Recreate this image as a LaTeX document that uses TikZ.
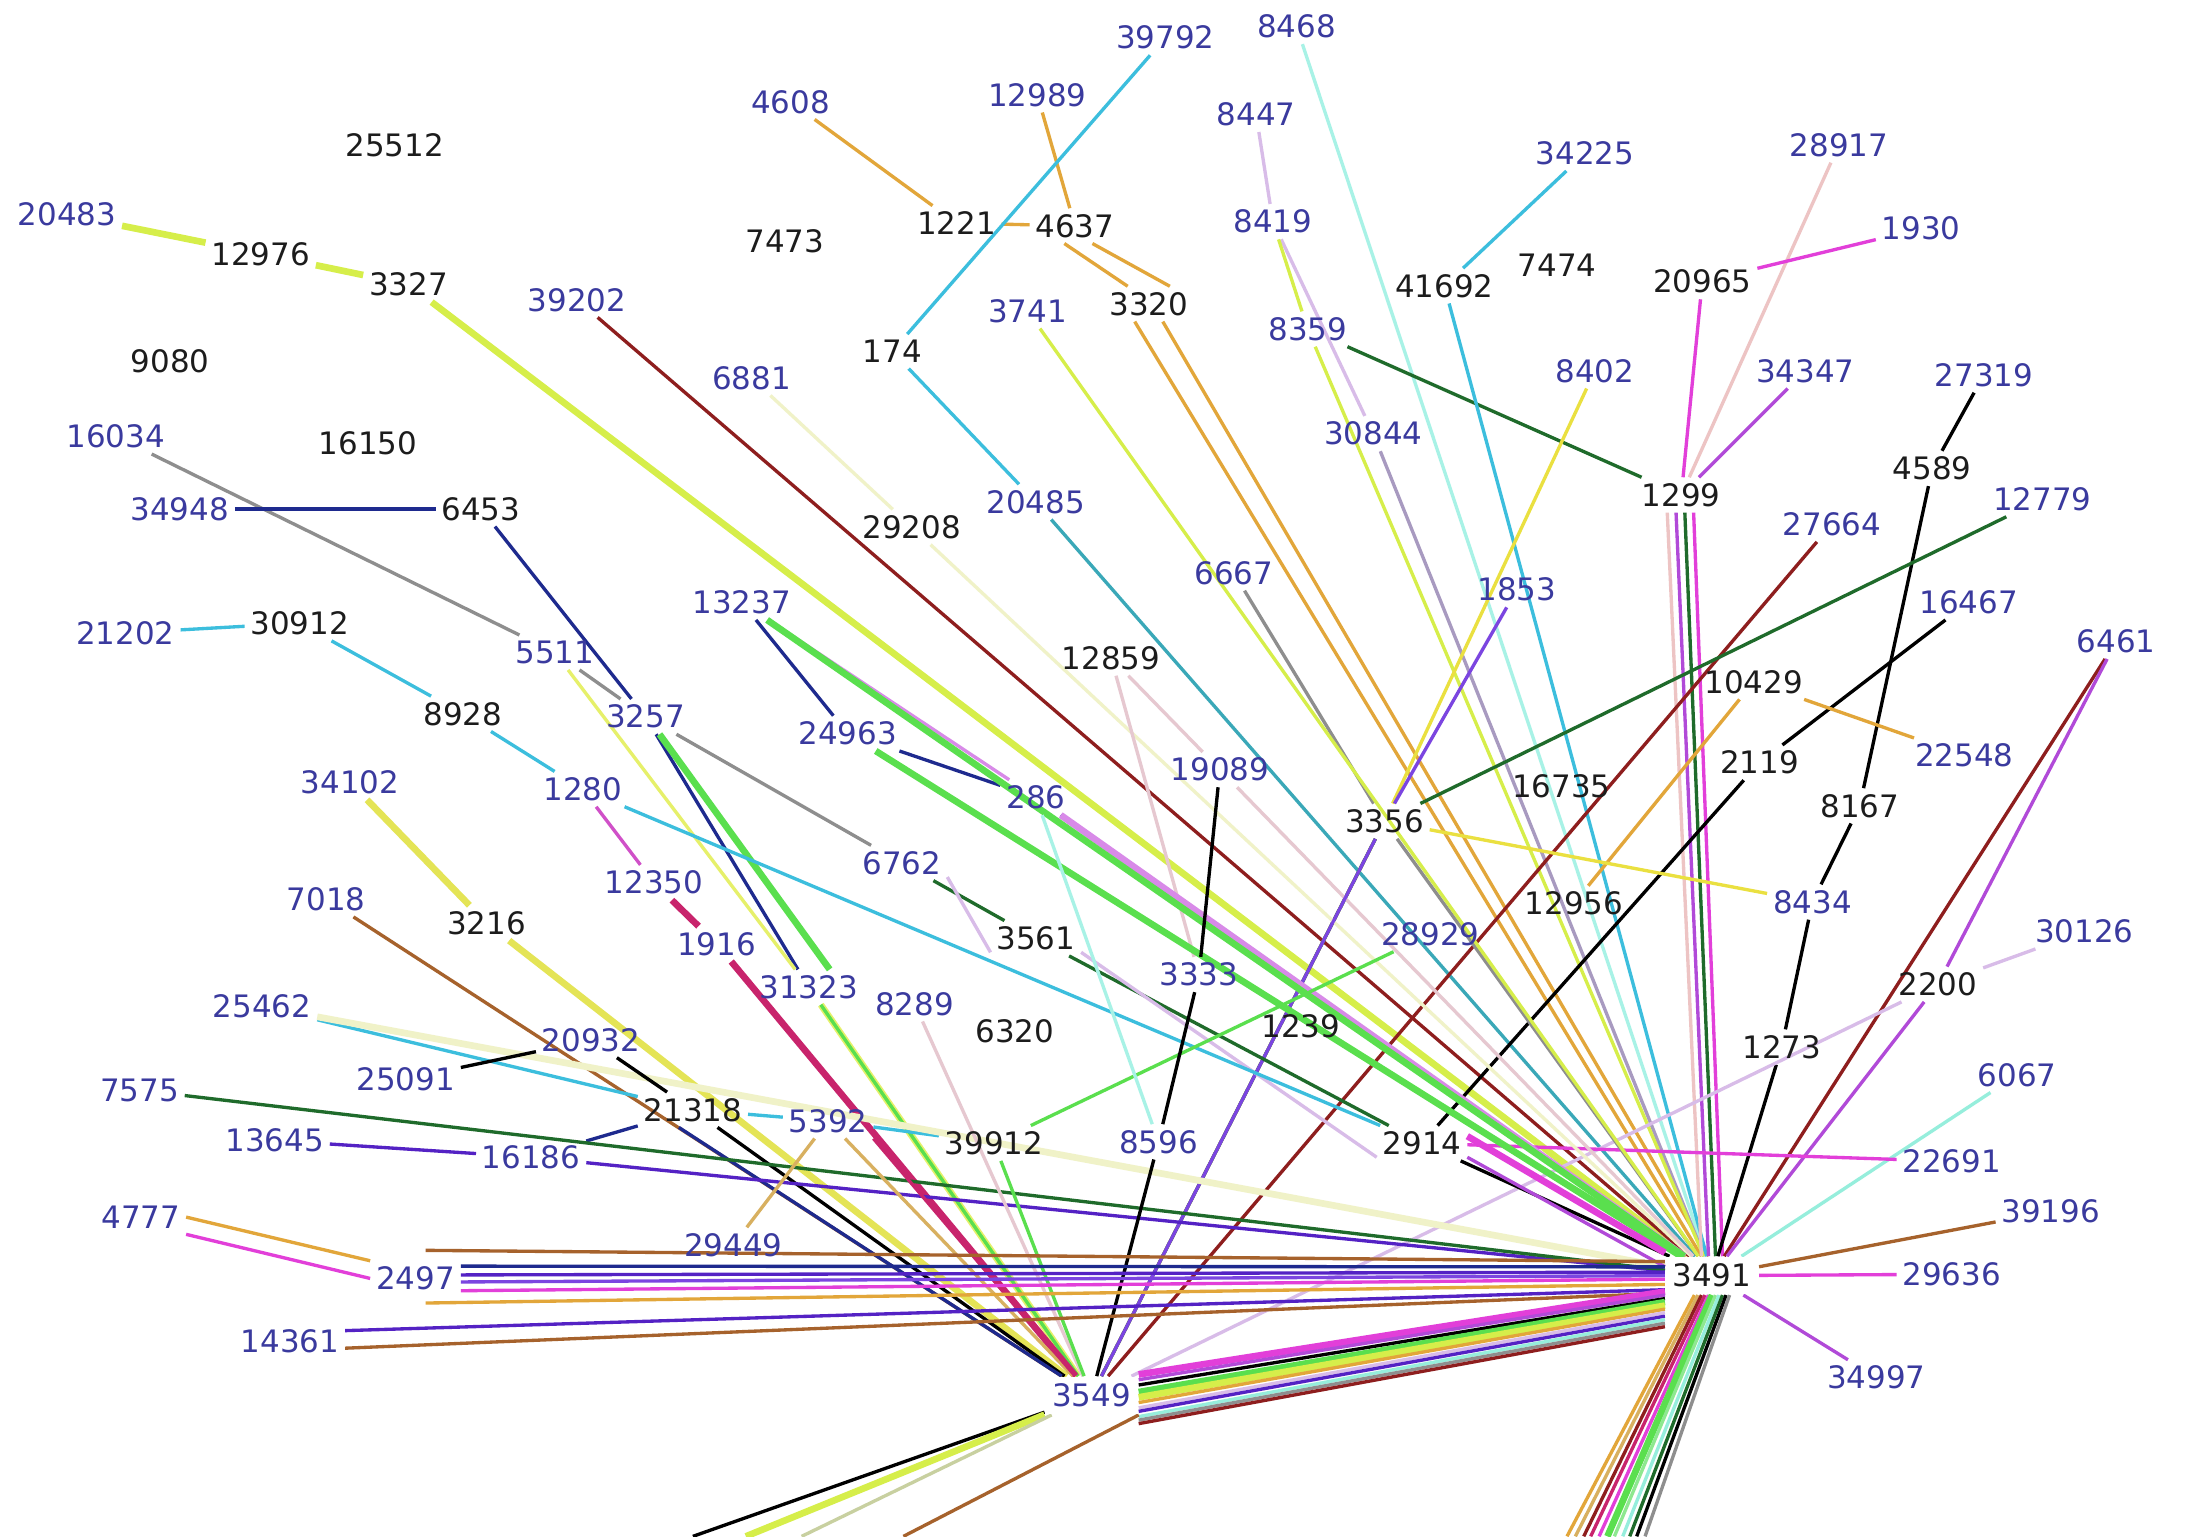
\documentclass[tikz,border=0pt]{standalone}
\usepackage{fontspec}
\setmainfont{DejaVu Sans}
\usetikzlibrary{backgrounds}
\definecolor{lblue}{HTML}{3A3A9E}
\definecolor{lblack}{HTML}{1C1C1C}
\definecolor{ygr}{HTML}{D6EE4A}
\definecolor{ygrB}{HTML}{E6F06A}
\definecolor{yelB}{HTML}{E4E456}
\definecolor{dred}{HTML}{8E1E1E}
\definecolor{org}{HTML}{E2A63A}
\definecolor{tan}{HTML}{D8B060}
\definecolor{cyn}{HTML}{3CBEDD}
\definecolor{teal}{HTML}{3AA8B8}
\definecolor{pyel}{HTML}{F0F2C8}
\definecolor{lcyn}{HTML}{A8F2E6}
\definecolor{lav}{HTML}{D8BCE8}
\definecolor{glav}{HTML}{A89AC0}
\definecolor{yel}{HTML}{EAE040}
\definecolor{dgrn}{HTML}{1F6B2B}
\definecolor{pnk}{HTML}{EDC4C4}
\definecolor{mag}{HTML}{E23FD9}
\definecolor{magB}{HTML}{D050C8}
\definecolor{pur}{HTML}{B14AD8}
\definecolor{nvy}{HTML}{1E2A8E}
\definecolor{gry}{HTML}{8E8E8E}
\definecolor{vio}{HTML}{7B45E0}
\definecolor{lim}{HTML}{5ADF4E}
\definecolor{lgrn}{HTML}{8EE890}
\definecolor{crm}{HTML}{C8246C}
\definecolor{brn}{HTML}{A6622C}
\definecolor{ind}{HTML}{5422C4}
\definecolor{aqua}{HTML}{96EEDC}
\definecolor{ppnk}{HTML}{E6C8D0}
\definecolor{pmag}{HTML}{D88AE8}
\definecolor{pgry}{HTML}{C8D0A0}
\begin{document}
\begin{tikzpicture}[x=0.013941cm,y=-0.013947cm,
  nd/.style={font=\fontsize{8.8}{10}\selectfont,inner sep=1.5pt},
  bl/.style={nd,text=lblue},
  bk/.style={nd,text=lblack},
  hub/.style={fill=white,inner sep=2pt},
  e/.style={line width=0.95pt},
  tk/.style={line width=1.9pt}]
\useasboundingbox (0,0) rectangle (1568,1102);
% nodes
\node[bl] (n39792) at (836,27) {39792};
\node[bl] (n8468) at (930,19) {8468};
\node[bl] (n4608) at (567,73) {4608};
\node[bl] (n12989) at (744,68) {12989};
\node[bl] (n8447) at (901,82) {8447};
\node[bl] (n34225) at (1137,110) {34225};
\node[bl] (n28917) at (1319,104) {28917};
\node[bk] (n25512) at (283,104) {25512};
\node[bl] (n20483) at (48,154) {20483};
\node[bk] (n12976) at (187,182) {12976};
\node[bk] (n3327) at (293,204) {3327};
\node[bk] (n7473) at (563,173) {7473};
\node[bk] (n1221) at (686,160) {1221};
\node[bk] (n4637) at (771,162) {4637};
\node[bl] (n8419) at (913,159) {8419};
\node[bl] (n1930) at (1378,164) {1930};
\node[bk] (n20965) at (1221,202) {20965};
\node[bk] (n41692) at (1036,205) {41692};
\node[bk] (n7474) at (1117,190) {7474};
\node[bl] (n39202) at (414,215) {39202};
\node[bl] (n3741) at (737,223) {3741};
\node[bk] (n3320) at (824,218) {3320};
\node[bl] (n8359) at (938,236) {8359};
\node[bk] (n174) at (640,252) {174};
\node[bk] (n9080) at (122,259) {9080};
\node[bl] (n6881) at (539,271) {6881};
\node[bl] (n8402) at (1144,266) {8402};
\node[bl] (n34347) at (1295,266) {34347};
\node[bl] (n27319) at (1423,269) {27319};
\node[bl] (n16034) at (83,313) {16034};
\node[bk] (n16150) at (264,318) {16150};
\node[bl] (n30844) at (985,311) {30844};
\node[bk] (n4589) at (1386,336) {4589};
\node[bk] (n1299) at (1206,355) {1299};
\node[bl] (n12779) at (1465,358) {12779};
\node[bl] (n34948) at (129,365) {34948};
\node[bk] (n6453) at (345,365) {6453};
\node[bl] (n20485) at (743,360) {20485};
\node[bk] (n29208) at (654,378) {29208};
\node[bl] (n27664) at (1314,376) {27664};
\node[bl] (n6667) at (885,411) {6667};
\node[bl] (n1853) at (1088,423) {1853};
\node[bl] (n16467) at (1412,432) {16467};
\node[bl] (n6461) at (1518,460) {6461};
\node[bl] (n13237) at (532,432) {13237};
\node[bl] (n21202) at (90,454) {21202};
\node[bk] (n30912) at (215,447) {30912};
\node[bl] (n5511) at (398,468) {5511};
\node[bk] (n12859) at (797,472) {12859};
\node[bk] (n10429) at (1258,489) {10429};
\node[bl] (n3257) at (463,514) {3257};
\node[bk] (n8928) at (332,512) {8928};
\node[bl] (n24963) at (608,526) {24963};
\node[bl] (n22548) at (1409,542) {22548};
\node[bk] (n2119) at (1262,547) {2119};
\node[bl] (n19089) at (875,552) {19089};
\node[bl] (n34102) at (251,561) {34102};
\node[bl] (n1280) at (418,566) {1280};
\node[bl] (n286) at (743,572) {286};
\node[bk] (n16735) at (1120,564) {16735};
\node[bk] (n8167) at (1334,578) {8167};
\node[bk] (n3356) at (993,589) {3356};
\node[bl] (n6762) at (647,619) {6762};
\node[bl] (n12350) at (469,633) {12350};
\node[bl] (n7018) at (234,645) {7018};
\node[bk] (n3216) at (349,662) {3216};
\node[bk] (n12956) at (1129,648) {12956};
\node[bl] (n8434) at (1300,647) {8434};
\node[bl] (n1916) at (514,677) {1916};
\node[bk] (n3561) at (743,673) {3561};
\node[bl] (n28929) at (1026,670) {28929};
\node[bl] (n30126) at (1495,668) {30126};
\node[bl] (n3333) at (860,699) {3333};
\node[bl] (n31323) at (580,708) {31323};
\node[bk] (n2200) at (1390,706) {2200};
\node[bl] (n8289) at (656,720) {8289};
\node[bl] (n25462) at (188,722) {25462};
\node[bk] (n6320) at (728,740) {6320};
\node[bk] (n1239) at (933,736) {1239};
\node[bl] (n20932) at (424,746) {20932};
\node[bk] (n1273) at (1278,751) {1273};
\node[bl] (n25091) at (291,774) {25091};
\node[bl] (n6067) at (1447,771) {6067};
\node[bl] (n7575) at (100,782) {7575};
\node[bk] (n21318) at (497,796) {21318};
\node[bl] (n5392) at (594,804) {5392};
\node[bk] (n39912) at (713,820) {39912};
\node[bl] (n8596) at (831,819) {8596};
\node[bk] (n2914) at (1020,820) {2914};
\node[bl] (n13645) at (197,818) {13645};
\node[bl] (n16186) at (381,830) {16186};
\node[bl] (n22691) at (1400,833) {22691};
\node[bl] (n4777) at (101,873) {4777};
\node[bl] (n39196) at (1471,869) {39196};
\node[bl] (n29449) at (526,893) {29449};
\node[bl] (n2497) at (298,917) {2497};
\node[bk,hub] (n3491) at (1228,915) {3491};
\node[bl] (n29636) at (1400,914) {29636};
\node[bl] (n14361) at (208,962) {14361};
\node[bl] (n34997) at (1346,988) {34997};
\node[bl,hub] (n3549) at (783,1001) {3549};
% free ends at the lower edge
\coordinate (d1) at (497,1102);
\coordinate (d2) at (535,1102);
\coordinate (d3) at (575,1102);
\coordinate (d4) at (648,1102);
\coordinate (c1) at (1124,1102);
\coordinate (c2) at (1130,1102);
\coordinate (c3) at (1136,1102);
\coordinate (c4) at (1141,1102);
\coordinate (c5) at (1147,1102);
\coordinate (c6) at (1153,1102);
\coordinate (c7) at (1158,1102);
\coordinate (c8) at (1164,1102);
\coordinate (c9) at (1169,1102);
\coordinate (c10) at (1174,1102);
\coordinate (c11) at (1180,1102);
\begin{scope}[on background layer]
\fill[white] (0,0) rectangle (1568,1102);
% top / upper area
\draw[e,tk,ygr] (n20483) -- (n12976);
\draw[e,tk,ygr] (n12976) -- (n3327);
\draw[e,tk,ygr] (n3327) -- (n3491);
\draw[e,dred] (n39202) -- (n3491);
\draw[e,org] (n4608) -- (n1221);
\draw[e,org] (n1221) -- (n4637);
\draw[e,org] (n12989) -- (n4637);
\draw[e,org] ([xshift=-3pt]n4637.south) -- ([xshift=-6pt]n3320.north);
\draw[e,org] ([xshift=5pt]n4637.south) -- ([xshift=6pt]n3320.north);
\draw[e,org] ([xshift=-4pt]n3320.south) -- ([xshift=-3pt]n3491.north);
\draw[e,org] ([xshift=4pt]n3320.south) -- ([xshift=-1pt]n3491.north);
\draw[e,cyn] (n39792) -- (n174);
\draw[e,cyn] (n174) -- (n20485);
\draw[e,teal] (n20485) -- (n3491);
\draw[e,lcyn] (n8468) -- (n3491);
\draw[e,lav] (n8447) -- (n8419);
\draw[e,lav] (n8419) -- (n30844);
\draw[e,glav] (n30844) -- (n3491);
\draw[e,ygr] (n8419) -- (n8359);
\draw[e,ygr] (n8359) -- (n3491);
\draw[e,dgrn] (n8359) -- (n1299);
\draw[e,cyn] (n34225) -- (n41692);
\draw[e,cyn] (n41692) -- (n3491);
\draw[e,yel] (n8402) -- (n3356);
\draw[e,yel] (n3356) -- (n3549);
\draw[e,pnk] (n28917) -- (n1299);
\draw[e,mag] (n1930) -- (n20965);
\draw[e,mag] (n20965) -- (n1299);
\draw[e,pur] (n34347) -- (n1299);
\draw[e,pnk] ([xshift=-4pt]n1299.south) -- ([xshift=-3pt]n3491.north);
\draw[e,pur] ([xshift=-1.5pt]n1299.south) -- ([xshift=-1pt]n3491.north);
\draw[e,dgrn] ([xshift=1pt]n1299.south) -- ([xshift=1pt]n3491.north);
\draw[e,mag] ([xshift=3.5pt]n1299.south) -- ([xshift=3pt]n3491.north);
\draw[e,black] (n27319) -- (n4589);
\draw[e,black] (n4589) -- (n8167);
\draw[e,black] (n8167) -- (n8434);
\draw[e,black] (n8434) -- (n1273);
\draw[e,black] (n1273) -- (n3491);
\draw[e,dred] (n27664) -- (n3549);
\draw[e,dgrn] (n12779) -- (n3356);
\draw[e,dgrn] (n3356) -- (n3549);
\draw[e,black] (n16467) -- (n2119);
\draw[e,black] (n2119) -- (n2914);
\draw[e,org] (n10429) -- (n22548);
\draw[e,org] (n10429) -- (n12956);
\draw[e,yel] (n3356) -- (n8434);
\draw[e,dred] (n6461) -- (n3491);
\draw[e,pur] (n6461) -- (n2200);
\draw[e,pur] (n2200) -- (n3491);
\draw[e,lav] (n30126) -- (n2200);
\draw[e,lav] (n2200) -- (n3549);
\draw[e,aqua] (n6067) -- (n3491);
\draw[e,mag] (n22691) -- (n2914);
\draw[e,brn] (n39196) -- (n3491);
\draw[e,mag] (n29636) -- (n3491);
\draw[e,pur] (n34997) -- (n3491);
\draw[e,pyel] (n6881) -- (n29208);
\draw[e,pyel] (n29208) -- (n3491);
\draw[e,ppnk] (n12859) -- (n3333);
\draw[e,ppnk] (n12859) -- (n19089);
\draw[e,ppnk] (n19089) -- (n3491);
\draw[e,gry] (n6667) -- (n3356);
\draw[e,gry] (n3356) -- (n3491);
\draw[e,vio] (n1853) -- (n3356);
\draw[e,vio] (n3356) -- (n3549);
\draw[e,ygr] (n3741) -- (n3491);
% left part
\draw[e,gry] (n16034) -- (n5511);
\draw[e,nvy] (n34948) -- (n6453);
\draw[e,nvy] (n6453) -- (n3257);
\draw[e,nvy] (n3257) -- (n31323);
\draw[e,gry] (n5511) -- (n3257);
\draw[e,gry] (n3257) -- (n6762);
\draw[e,ygrB] (n5511) -- (n31323);
\draw[e,tk,ygrB] (n31323) -- (n3549);
\draw[e,tk,lim] ([xshift=4pt]n3257.south) -- ([xshift=6pt]n31323.north);
\draw[e,lim] (n31323) -- (n3549);
\draw[e,dgrn] (n6762) -- (n3561);
\draw[e,dgrn] (n3561) -- (n2914);
\draw[e,lav] ([yshift=-4pt]n6762.east) -- ([yshift=-4pt]n3561.west);
\draw[e,lav] ([yshift=-4pt]n3561.east) -- ([yshift=-4pt]n2914.west);
\draw[e,nvy] (n13237) -- (n24963);
\draw[e,nvy] (n24963) -- (n286);
\draw[e,nvy] (n286) -- (n3491);
\draw[e,pmag] (n13237) -- (n286);
\draw[e,tk,pmag] (n286) -- (n3491);
\draw[e,tk,lim] (n13237) -- (n3491);
\draw[e,tk,lim] (n24963) -- (n3491);
\draw[e,cyn] (n21202) -- (n30912);
\draw[e,cyn] (n30912) -- (n8928);
\draw[e,cyn] (n8928) -- (n1280);
\draw[e,cyn] (n1280) -- (n2914);
\draw[e,magB] (n1280) -- (n12350);
\draw[e,tk,crm] (n12350) -- (n1916);
\draw[e,tk,crm] (n1916) -- (n3549);
\draw[e,tk,yelB] (n34102) -- (n3216);
\draw[e,tk,yelB] (n3216) -- (n3549);
\draw[e,brn] (n7018) -- (n3549);
\draw[e,cyn] (n25462) -- (n21318);
\draw[e,cyn] (n21318) -- (n5392);
\draw[e,cyn] (n5392) -- (n39912);
\draw[e,cyn] (n39912) -- (n3491);
\draw[e,tk,pyel] (n25462) -- (n3491);
\draw[e,black] (n25091) -- (n20932);
\draw[e,black] (n20932) -- (n21318);
\draw[e,black] (n21318) -- (n3549);
\draw[e,nvy] (n16186) -- (n21318);
\draw[e,nvy] ([xshift=-4pt]n21318.south) -- (n3549);
\draw[e,ind] (n13645) -- (n16186);
\draw[e,ind] (n16186) -- (n3491);
\draw[e,dgrn] (n7575) -- (n3491);
\draw[e,tan] (n5392) -- (n29449);
\draw[e,tan] (n5392) -- (n3549);
\draw[e,crm] (n5392.south east) -- (n3549);
\draw[e,ppnk] (n8289) -- (n3549);
\draw[e,lim] (n39912) -- (n28929);
\draw[e,lim] (n39912) -- (n3549);
\draw[e,black] (n19089) -- (n3333);
\draw[e,black] (n3333) -- (n8596);
\draw[e,black] (n8596) -- (n3549);
\draw[e,lcyn] (n286) -- (n8596);
% 2914 to hub
\draw[e,black] (n2914) -- (n3491);
\draw[e,tk,mag] ([yshift=2pt]n2914.east) -- ([yshift=1pt]n3491.north west);
\draw[e,pur] ([yshift=-4pt]n2914.east) -- ([yshift=-3pt]n3491.north west);
% 4777 / 2497 / 14361
\draw[e,org] (n4777.east) -- (n2497.north west);
\draw[e,mag] (n4777.south east) -- (n2497.west);
\draw[e,brn] ([xshift=-10pt,yshift=8pt]n2497.east) -- ([yshift=4pt]n3491.west);
\draw[e,nvy] ([yshift=3.5pt]n2497.east) -- ([yshift=2.5pt]n3491.west);
\draw[e,ind] ([yshift=1pt]n2497.east) -- ([yshift=1pt]n3491.west);
\draw[e,vio] ([yshift=-1pt]n2497.east) -- ([yshift=0pt]n3491.west);
\draw[e,mag] ([yshift=-3.5pt]n2497.east) -- ([yshift=-1pt]n3491.west);
\draw[e,org] ([xshift=-10pt,yshift=-7pt]n2497.east) -- ([yshift=-2.5pt]n3491.west);
\draw[e,ind] ([yshift=3pt]n14361.east) -- ([yshift=-4pt]n3491.west);
\draw[e,brn] ([yshift=-2pt]n14361.east) -- ([yshift=-5pt]n3491.west);
% bundle 3549 - 3491
\draw[e,tk,mag] ([yshift=6pt]n3549.east) -- ([yshift=1pt]n3491.south west);
\draw[e,pur] ([yshift=4.5pt]n3549.east) -- ([yshift=0pt]n3491.south west);
\draw[e,black] ([yshift=3pt]n3549.east) -- ([yshift=-1pt]n3491.south west);
\draw[e,tk,lim] ([yshift=1pt]n3549.east) -- ([yshift=-2pt]n3491.south west);
\draw[e,tk,ygr] ([yshift=-0.5pt]n3549.east) -- ([yshift=-3pt]n3491.south west);
\draw[e,org] ([yshift=-2pt]n3549.east) -- ([yshift=-4pt]n3491.south west);
\draw[e,lav] ([yshift=-3.5pt]n3549.east) -- ([yshift=-5pt]n3491.south west);
\draw[e,ind] ([yshift=-4.5pt]n3549.east) -- ([yshift=-6pt]n3491.south west);
\draw[e,aqua] ([yshift=-6pt]n3549.east) -- ([yshift=-7pt]n3491.south west);
\draw[e,gry] ([yshift=-7pt]n3549.east) -- ([yshift=-8pt]n3491.south west);
\draw[e,dred] ([yshift=-8pt]n3549.east) -- ([yshift=-9pt]n3491.south west);
% off the lower edge
\draw[e,black] (n3549) -- (d1);
\draw[e,tk,ygr] (n3549) -- (d2);
\draw[e,pgry] (n3549) -- (d3);
\draw[e,brn] (n3549.south east) -- (d4);
\draw[e,org] ([xshift=-5pt]n3491.south) -- (c1);
\draw[e,tan] ([xshift=-4pt]n3491.south) -- (c2);
\draw[e,dred] ([xshift=-3pt]n3491.south) -- (c3);
\draw[e,crm] ([xshift=-2pt]n3491.south) -- (c4);
\draw[e,mag] ([xshift=-1pt]n3491.south) -- (c5);
\draw[e,tk,lim] ([xshift=0pt]n3491.south) -- (c6);
\draw[e,lgrn] ([xshift=1pt]n3491.south) -- (c7);
\draw[e,aqua] ([xshift=2pt]n3491.south) -- (c8);
\draw[e,dgrn] ([xshift=3pt]n3491.south) -- (c9);
\draw[e,black] ([xshift=4pt]n3491.south) -- (c10);
\draw[e,gry] ([xshift=5pt]n3491.south) -- (c11);
\end{scope}
\end{tikzpicture}
\end{document}
